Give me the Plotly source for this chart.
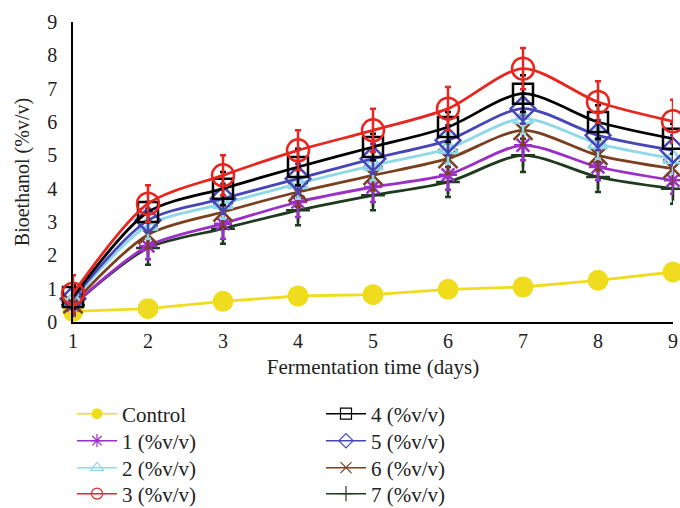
import plotly.graph_objects as go

days = [1, 2, 3, 4, 5, 6, 7, 8, 9]

series_names = ["Control", "1 (%v/v)", "2 (%v/v)", "3 (%v/v)",
                "4 (%v/v)", "5 (%v/v)", "6 (%v/v)", "7 (%v/v)"]

control = [0.32, 0.40, 0.62, 0.78, 0.82, 0.98, 1.05, 1.25, 1.50]
s1 = [0.50, 2.28, 2.95, 3.60, 4.05, 4.42, 5.30, 4.65, 4.25]
s2 = [0.65, 2.90, 3.55, 4.15, 4.70, 5.20, 6.10, 5.35, 4.90]
s3 = [0.85, 3.55, 4.40, 5.15, 5.75, 6.40, 7.60, 6.60, 6.02]
s4 = [0.75, 3.30, 4.00, 4.65, 5.25, 5.85, 6.85, 6.00, 5.50]
s5 = [0.70, 3.05, 3.70, 4.30, 4.90, 5.45, 6.40, 5.60, 5.15]
s6 = [0.55, 2.62, 3.30, 3.90, 4.40, 4.90, 5.75, 5.00, 4.60]
s7 = [0.50, 2.22, 2.80, 3.35, 3.80, 4.20, 5.00, 4.35, 4.00]

e1 = [0.30, 0.40, 0.45, 0.45, 0.45, 0.45, 0.45, 0.40, 0.40]
e2 = [0.30, 0.40, 0.45, 0.45, 0.45, 0.45, 0.45, 0.45, 0.45]
e3 = [0.55, 0.55, 0.60, 0.60, 0.65, 0.65, 0.62, 0.62, 0.65]
e4 = [0.35, 0.30, 0.50, 0.55, 0.40, 0.45, 0.55, 0.50, 0.45]
e5 = [0.30, 0.35, 0.45, 0.45, 0.45, 0.45, 0.45, 0.45, 0.45]
e6 = [0.30, 0.40, 0.45, 0.45, 0.45, 0.45, 0.45, 0.45, 0.45]
e7 = [0.30, 0.50, 0.45, 0.45, 0.45, 0.45, 0.50, 0.45, 0.45]

values = [control, s1, s2, s3, s4, s5, s6, s7]
errors = [None, e1, e2, e3, e4, e5, e6, e7]

colors = ["#F0DC1E", "#9B30C8", "#8FD8E8", "#E8251E",
          "#000000", "#4646B8", "#7A3F1E", "#1F3B1F"]
symbols = ["circle", "asterisk-open", "triangle-up-open", "circle-open",
           "square-open", "diamond-open", "x-thin-open", "cross-thin-open"]
sizes = [21, 15, 17, 22, 20, 19, 19, 17]

FONT = "Liberation Serif"
TXT = "#222222"

# page layout (pixels)
W, H = 680, 508
ML, MR, MT, MB = 73, 7, 22, 186
PW = W - ML - MR
leg_col_px = [72, 321]             # left edge of legend columns
leg_row_px = [414, 441, 468, 494]  # vertical centres of legend rows

fig = go.Figure()

draw_order = [0, 7, 1, 6, 2, 5, 4, 3]
for i in draw_order:
    err = None
    if errors[i] is not None:
        err = dict(type="data", array=errors[i], color=colors[i],
                   thickness=2.5, width=3)
    fig.add_trace(go.Scatter(
        x=days, y=values[i], mode="lines+markers",
        line=dict(color=colors[i], width=2.8,
                  shape="spline" if i else "linear", smoothing=0.8),
        marker=dict(symbol=symbols[i], size=sizes[i], color=colors[i],
                    line=dict(color=colors[i], width=2.5 if i else 0)),
        error_y=err, showlegend=False, cliponaxis=False,
    ))

legends = {}
for i in range(8):
    lid = "legend" if i == 0 else f"legend{i + 1}"
    col, row = divmod(i, 4)
    fig.add_trace(go.Scatter(
        x=[None], y=[None], mode="lines+markers", name=series_names[i],
        line=dict(color=colors[i], width=1.5),
        marker=dict(symbol=symbols[i], size=11, color=colors[i],
                    line=dict(color=colors[i], width=1.2 if i else 0)),
        legend=lid, showlegend=True,
    ))
    legends[lid] = dict(
        font=dict(family=FONT, size=21, color=TXT),
        bgcolor="rgba(0,0,0,0)", orientation="v", itemwidth=40,
        xref="paper", yref="container",
        x=(leg_col_px[col] - ML) / PW, xanchor="left",
        y=1 - leg_row_px[row] / H, yanchor="middle",
    )

fig.update_layout(
    width=W, height=H,
    margin=dict(l=ML, r=MR, t=MT, b=MB, autoexpand=False),
    paper_bgcolor="white", plot_bgcolor="white",
    font=dict(family=FONT, size=20, color=TXT),
    xaxis=dict(range=[1, 9], tickvals=days, ticks="", showgrid=False,
               zeroline=False, showline=True, linecolor="#000000", linewidth=2,
               tickfont=dict(family=FONT, size=20, color=TXT),
               ticklabelstandoff=0,
               title=dict(text="Fermentation time (days)", standoff=8,
                          font=dict(family=FONT, size=21, color=TXT))),
    yaxis=dict(range=[0, 9], dtick=1, ticks="", showgrid=False,
               zeroline=False, showline=True, linecolor="#000000", linewidth=1.5,
               tickfont=dict(family=FONT, size=20, color=TXT),
               ticklabelstandoff=10,
               title=dict(text="Bioethanol (%v/v)", standoff=12,
                          font=dict(family=FONT, size=20, color=TXT))),
    **legends,
)

fig.write_html("out.html",
               config={"displayModeBar": False},
               post_script="document.body.style.margin='0';"
                           "document.body.style.overflow='hidden';")
